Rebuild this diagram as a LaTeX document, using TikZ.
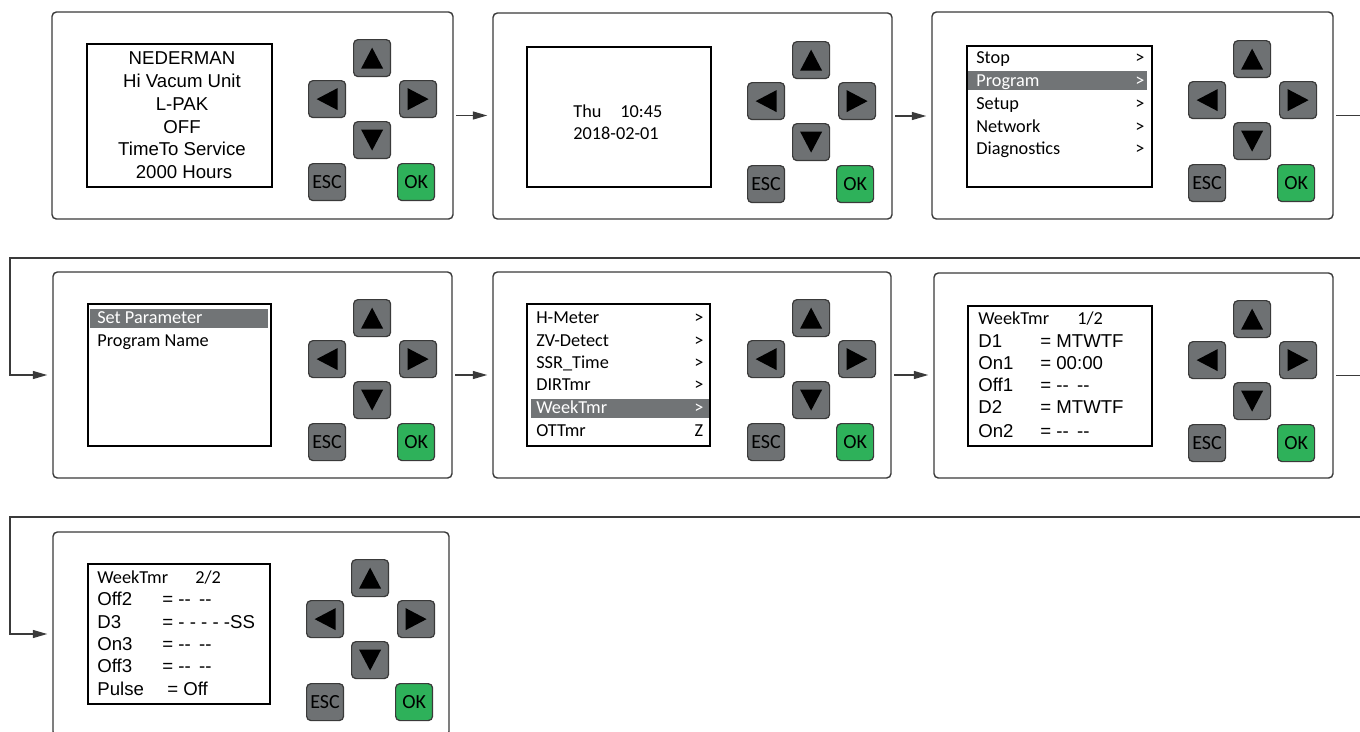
\documentclass[tikz,border=0pt]{standalone}
\usepackage{fontspec}
\setmainfont{Liberation Sans}
\newfontfamily\calfont{Carlito}
\usetikzlibrary{arrows.meta,fit}
\definecolor{btngray}{HTML}{6E7173}
\definecolor{okgreen}{HTML}{2EB15A}
\definecolor{edgecol}{HTML}{3A3A3A}
\definecolor{bargray}{HTML}{717476}
\tikzset{
  panelbox/.style={draw=edgecol, line width=0.8pt, rounded corners=2.5pt, inner sep=0pt, fill=white},
  screen/.style={draw=black, line width=1.1pt, inner sep=0pt},
  key/.style={draw=edgecol, line width=0.7pt, fill=btngray, rounded corners=2.5pt,
    minimum size=0.74cm, inner sep=0pt, anchor=north west,
    font=\calfont\fontsize{11.4}{12}\selectfont},
  okkey/.style={key, fill=okgreen},
  tri/.style={fill=black},
  conn/.style={draw=edgecol, line width=0.75pt, -{Triangle[length=0.29cm,width=0.16cm]}},
  ar/.style={font=\fontsize{10.6}{12}\selectfont, text height=7.6pt, text depth=0pt, inner sep=0pt},
  ca/.style={font=\calfont\fontsize{10.4}{12}\selectfont, text height=6.7pt, text depth=0pt, inner sep=0pt},
  bar/.style={fill=bargray},
}
% keypad: #1 prefix, #2 x of left key, #3 y of top of up key
\newcommand{\keypad}[3]{%
  \node[key] (#1u) at ({#2+45},{#3}) {};
  \node[key] (#1l) at ({#2},{#3+41}) {};
  \node[key] (#1r) at ({#2+91},{#3+41}) {};
  \node[key] (#1d) at ({#2+45},{#3+82}) {};
  \node[key] (#1e) at ({#2},{#3+124}) {ESC};
  \node[okkey] (#1o) at ({#2+89},{#3+124}) {OK};
  \fill[tri] ([shift={(0,-10.5)}]#1u.center) -- ([shift={(11,10.5)}]#1u.center) -- ([shift={(-11,10.5)}]#1u.center) -- cycle;
  \fill[tri] ([shift={(0,10.5)}]#1d.center) -- ([shift={(11,-10.5)}]#1d.center) -- ([shift={(-11,-10.5)}]#1d.center) -- cycle;
  \fill[tri] ([shift={(-10.5,0)}]#1l.center) -- ([shift={(10.5,11)}]#1l.center) -- ([shift={(10.5,-11)}]#1l.center) -- cycle;
  \fill[tri] ([shift={(10.5,0)}]#1r.center) -- ([shift={(-10.5,11)}]#1r.center) -- ([shift={(-10.5,-11)}]#1r.center) -- cycle;
}
\begin{document}
\begin{tikzpicture}[x=0.02cm, y=-0.02cm]
\useasboundingbox (0,0) rectangle (1360,731);
\clip (0,0) rectangle (1360,731);

% ---------- panels ----------
\node[panelbox, fit={(52,12) (453,219)}] (p1) {};
\node[panelbox, fit={(493,13) (892,219)}] (p2) {};
\node[panelbox, fit={(932,12) (1333,219)}] (p3) {};
\node[panelbox, fit={(53,272) (452,478)}] (p4) {};
\node[panelbox, fit={(493,272) (891,478)}] (p5) {};
\node[panelbox, fit={(934,273) (1333,478)}] (p6) {};
\node[panelbox, fit={(53,532) (449,736)}] (p7) {};

% ---------- screens ----------
\node[screen, fit={(87,44) (272,187)}] (s1) {};
\node[screen, fit={(527,47) (711,187)}] (s2) {};
\node[screen, fit={(967,46) (1152,187)}] (s3) {};
\node[screen, fit={(88,304) (271,446)}] (s4) {};
\node[screen, fit={(527,304) (710,446)}] (s5) {};
\node[screen, fit={(968,306) (1152,446)}] (s6) {};
\node[screen, fit={(88,564) (270,704)}] (s7) {};

% ---------- highlight bars ----------
\fill[bar] (968,71) rectangle (1147,90);
\fill[bar] (90,309) rectangle (268,328);
\fill[bar] (531,399) rectangle (709,418);

% ---------- keypads ----------
\keypad{k1}{308}{39}
\keypad{k2}{747}{41}
\keypad{k3}{1188}{40}
\keypad{k4}{308}{299}
\keypad{k5}{747}{299}
\keypad{k6}{1188}{300}
\keypad{k7}{306}{559}

% ---------- screen 1 ----------
\node[ar] (t1a) at (182,58) {NEDERMAN};
\node[ar] (t1b) at (182,81) {Hi Vacum Unit};
\node[ar] (t1c) at (182,104) {L-PAK};
\node[ar] (t1d) at (182,127) {OFF};
\node[ar] (t1e) at (182,149) {TimeTo Service};
\node[ar] (t1f) at (184,172) {2000 Hours};

% ---------- screen 2 ----------
\node[ca, anchor=west] (t2a) at (573,112) {Thu};
\node[ca, anchor=west] (t2b) at (620,112) {10:45};
\node[ca, anchor=west] (t2c) at (573,134) {2018-02-01};

% ---------- screen 3 ----------
\node[ca, anchor=west] (t3a) at (976,58) {Stop};
\node[ca, anchor=west, text=white] (t3b) at (976,81) {Program};
\node[ca, anchor=west] (t3c) at (976,104) {Setup};
\node[ca, anchor=west] (t3d) at (976,127) {Network};
\node[ca, anchor=west] (t3e) at (976,149) {Diagnostics};
\node[ca] (g3a) at (1140,58) {>};
\node[ca, text=white] (g3b) at (1140,81) {>};
\node[ca] (g3c) at (1140,104) {>};
\node[ca] (g3d) at (1140,127) {>};
\node[ca] (g3e) at (1140,149) {>};

% ---------- screen 4 ----------
\node[ca, anchor=west, text=white] (t4a) at (97,318) {Set Parameter};
\node[ca, anchor=west] (t4b) at (97,341) {Program Name};

% ---------- screen 5 ----------
\node[ca, anchor=west] (t5a) at (536,318) {H-Meter};
\node[ca, anchor=west] (t5b) at (536,341) {ZV-Detect};
\node[ca, anchor=west] (t5c) at (536,363) {SSR\_Time};
\node[ca, anchor=west] (t5d) at (536,385) {DIRTmr};
\node[ca, anchor=west, text=white] (t5e) at (536,408) {WeekTmr};
\node[ca, anchor=west] (t5f) at (536,431) {OTTmr};
\node[ca] (g5a) at (699,318) {>};
\node[ca] (g5b) at (699,341) {>};
\node[ca] (g5c) at (699,363) {>};
\node[ca] (g5d) at (699,385) {>};
\node[ca, text=white] (g5e) at (699,408) {>};
\node[ca] (g5f) at (699,431) {Z};

% ---------- screen 6 ----------
\node[ca, anchor=west] (t6h) at (978,319) {WeekTmr};
\node[ca, anchor=west] (t6p) at (1077,319) {1/2};
\node[ar, anchor=west] (t6a) at (978,341) {D1};
\node[ar, anchor=west] (t6b) at (978,363) {On1};
\node[ar, anchor=west] (t6c) at (978,385) {Off1};
\node[ar, anchor=west] (t6d) at (978,407) {D2};
\node[ar, anchor=west] (t6e) at (978,431) {On2};
\node[ar, anchor=west] (v6a) at (1040,341) {= MTWTF};
\node[ar, anchor=west] (v6b) at (1040,363) {= 00:00};
\node[ar, anchor=west] (v6c) at (1040,385) {= -{}-\hspace{0.45em}-{}-};
\node[ar, anchor=west] (v6d) at (1040,407) {= MTWTF};
\node[ar, anchor=west] (v6e) at (1040,431) {= -{}-\hspace{0.45em}-{}-};

% ---------- screen 7 ----------
\node[ca, anchor=west] (t7h) at (97,578) {WeekTmr};
\node[ca, anchor=west] (t7p) at (195,578) {2/2};
\node[ar, anchor=west] (t7a) at (97,599) {Off2};
\node[ar, anchor=west] (t7b) at (97,622) {D3};
\node[ar, anchor=west] (t7c) at (97,644) {On3};
\node[ar, anchor=west] (t7d) at (97,666) {Off3};
\node[ar, anchor=west] (t7e) at (97,689) {Pulse};
\node[ar, anchor=west] (v7a) at (162,599) {= -{}-\hspace{0.45em}-{}-};
\node[ar, anchor=west] (v7b) at (162,622) {= - - - - -SS};
\node[ar, anchor=west] (v7c) at (162,644) {= -{}-\hspace{0.45em}-{}-};
\node[ar, anchor=west] (v7d) at (162,666) {= -{}-\hspace{0.45em}-{}-};
\node[ar, anchor=west] (v7e) at (167,689) {= Off};

% ---------- connectors ----------
\coordinate (rt1) at (1390,258);
\coordinate (lt1) at (10,258);
\coordinate (rt2) at (1390,517);
\coordinate (lt2) at (10,517);
\draw[conn, shorten <=0.05cm, shorten >=0.1cm] (p1.east) -- (p1.east -| p2.west);
\draw[conn, shorten <=0.05cm, shorten >=0.1cm] (p2.east) -- (p2.east -| p3.west);
\draw[conn, shorten <=0.05cm, shorten >=0.1cm] (p3.east) -- (p3.east -| rt1) -- (rt1) -- (lt1) -- (lt1 |- p4.west) -- (p4.west);
\draw[conn, shorten <=0.05cm, shorten >=0.1cm] (p4.east) -- (p4.east -| p5.west);
\draw[conn, shorten <=0.05cm, shorten >=0.1cm] (p5.east) -- (p5.east -| p6.west);
\draw[conn, shorten <=0.05cm, shorten >=0.1cm] (p6.east) -- (p6.east -| rt2) -- (rt2) -- (lt2) -- (lt2 |- p7.west) -- (p7.west);
\end{tikzpicture}
\end{document}
